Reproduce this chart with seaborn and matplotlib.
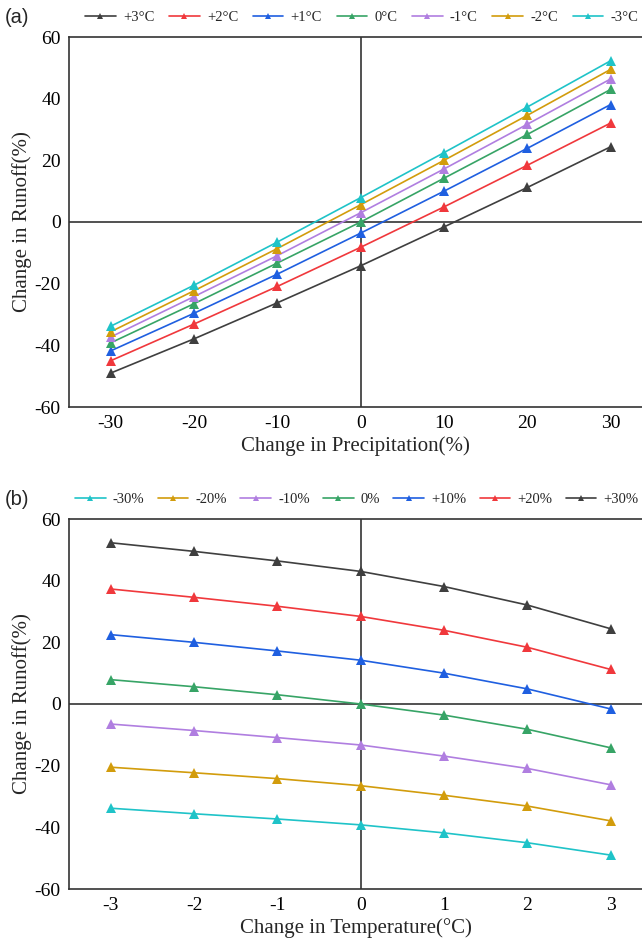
import matplotlib
matplotlib.use("Agg")
import matplotlib.pyplot as plt
import seaborn as sns
import pandas as pd

# Runoff change (%) for each temperature change, across precipitation changes
precip_change = [-30, -20, -10, 0, 10, 20, 30]
temp_change = [-3, -2, -1, 0, 1, 2, 3]

runoff_t_minus3 = [-33.8, -20.5, -6.5, 7.9, 22.5, 37.3, 52.3]
runoff_t_minus2 = [-35.6, -22.3, -8.6, 5.6, 20.0, 34.6, 49.5]
runoff_t_minus1 = [-37.3, -24.2, -10.9, 3.0, 17.2, 31.7, 46.4]
runoff_t_zero = [-39.2, -26.5, -13.3, 0.0, 14.2, 28.4, 43.0]
runoff_t_plus1 = [-41.8, -29.6, -16.9, -3.6, 10.0, 23.9, 38.1]
runoff_t_plus2 = [-45.0, -33.1, -20.9, -8.2, 4.9, 18.4, 32.1]
runoff_t_plus3 = [-49.0, -37.9, -26.2, -14.2, -1.6, 11.2, 24.4]

temp_labels = ["-3°C", "-2°C", "-1°C", "0°C", "+1°C", "+2°C", "+3°C"]
precip_labels = ["-30%", "-20%", "-10%", "0%", "+10%", "+20%", "+30%"]

series_colors = ["#1fc3c8", "#d29c0c", "#b07ee0", "#37a466", "#1f5fe0", "#f0383c", "#3f3f3f"]

rows = [runoff_t_minus3, runoff_t_minus2, runoff_t_minus1, runoff_t_zero,
        runoff_t_plus1, runoff_t_plus2, runoff_t_plus3]

records = []
for i, t in enumerate(temp_change):
    for j, p in enumerate(precip_change):
        records.append({"T": t, "P": p, "R": rows[i][j],
                        "Tlab": temp_labels[i], "Plab": precip_labels[j]})
df = pd.DataFrame(records)

sns.set_theme(style="white")
plt.rcParams["font.family"] = ["Liberation Serif", "DejaVu Serif"]
plt.rcParams["axes.unicode_minus"] = False

fig = plt.figure(figsize=(6.42, 9.40), dpi=100)
ax_a = fig.add_axes([69 / 642, 1 - 407 / 940, 1 - 69 / 642, 370 / 940])
ax_b = fig.add_axes([69 / 642, 1 - 889 / 940, 1 - 69 / 642, 370 / 940])

line_kw = dict(marker="^", markersize=6.5, markeredgewidth=0, linewidth=1.2)

# (a) runoff vs precipitation, one line per temperature change
palette_a = dict(zip(temp_labels, series_colors))
sns.lineplot(data=df, x="P", y="R", hue="Tlab", hue_order=temp_labels[::-1],
             palette=palette_a, ax=ax_a, **line_kw)

# (b) runoff vs temperature, one line per precipitation change
palette_b = dict(zip(precip_labels, series_colors))
sns.lineplot(data=df, x="T", y="R", hue="Plab", hue_order=precip_labels,
             palette=palette_b, ax=ax_b, **line_kw)

spine_color = "#333333"
for ax, xlim, xticks, xlabel, tag, leg_x, col_sp in [
    (ax_a, (-35, 33.76), precip_change, "Change in Precipitation(%)", "(a)", 0.028, 1.0),
    (ax_b, (-3.5, 3.376), temp_change, "Change in Temperature(°C)", "(b)", 0.0105, 0.9),
]:
    ax.axhline(0, color=spine_color, lw=1.2, zorder=1)
    ax.axvline(0, color=spine_color, lw=1.2, zorder=1)
    ax.set_xlim(*xlim)
    ax.set_ylim(-60, 60)
    ax.set_xticks(xticks)
    ax.set_yticks([-60, -40, -20, 0, 20, 40, 60])
    ax.tick_params(direction="in", length=4, width=1, colors=spine_color,
                   labelcolor="black", labelsize=14, pad=6)
    for side in ["left", "bottom", "top"]:
        ax.spines[side].set_color(spine_color)
        ax.spines[side].set_linewidth(1.2)
    ax.spines["right"].set_visible(False)
    ax.set_xlabel(xlabel, fontsize=15, labelpad=3)
    ax.set_ylabel("Change in Runoff(%)", fontsize=15, labelpad=2)
    handles, labels = ax.get_legend_handles_labels()
    for h in handles:
        h.set_markersize(4.5)
    ax.legend(handles, labels, ncol=7, frameon=False, fontsize=10.5,
              loc="center left", bbox_to_anchor=(leg_x, 1.054),
              handlelength=2.1, handletextpad=0.5, columnspacing=col_sp,
              borderaxespad=0, borderpad=0)
    ax.text(-0.113, 1.054, tag, transform=ax.transAxes, ha="left", va="center",
            fontsize=14.5, family=["Liberation Sans", "DejaVu Sans"])

fig.savefig("out.png", dpi=100)
